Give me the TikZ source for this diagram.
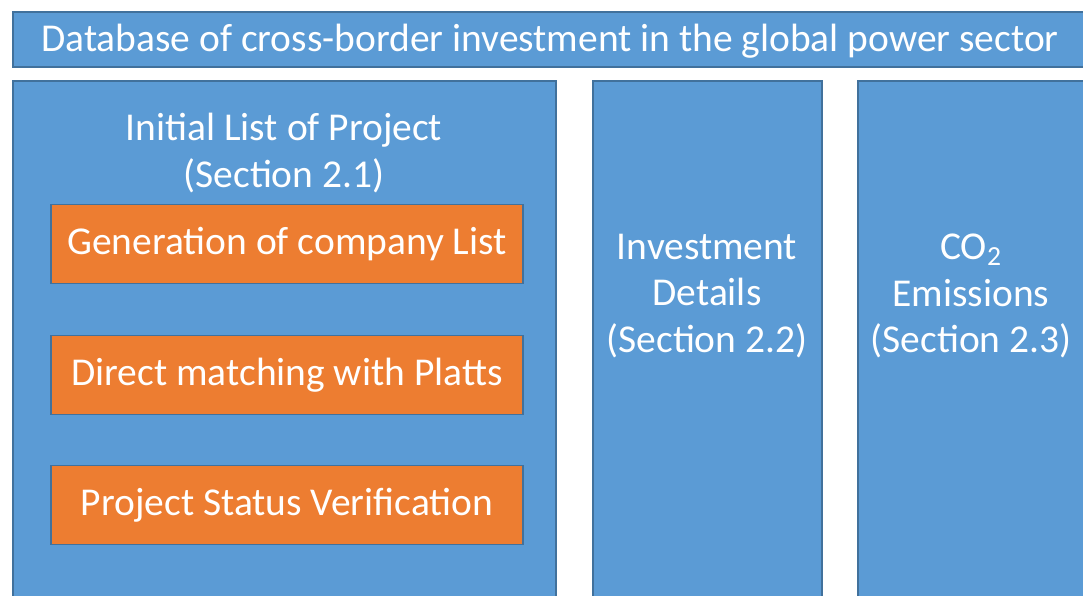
\documentclass[tikz,border=0pt]{standalone}
\usepackage{fontspec}
\setmainfont{Carlito}
\usepackage{tikz}
\usetikzlibrary{positioning}

\definecolor{boxblue}{RGB}{91,155,213}
\definecolor{boxorange}{RGB}{237,125,49}
\definecolor{edgeblue}{RGB}{65,113,156}

\tikzset{
  bluebox/.style={draw=edgeblue, fill=boxblue, line width=0.9pt},
  orangebox/.style={draw=edgeblue, fill=boxorange, line width=0.9pt, text=white,
    minimum width=354pt, minimum height=59.25pt, inner sep=0pt,
    font=\fontsize{29.6}{35}\selectfont},
  boxtext/.style={text=white, align=center, inner sep=0pt,
    font=\fontsize{29.6}{35}\selectfont}
}

\begin{document}
\begin{tikzpicture}[x=0.75pt,y=0.75pt,yscale=-1,xscale=1]
\useasboundingbox (0,0) rectangle (1083,596);
\clip (0,0) rectangle (1083,596);

%Shape: Rectangle (title bar)
\draw[bluebox] (13,12) rectangle (1090,67);
%Shape: Rectangle (initial list)
\draw[bluebox] (13,81) rectangle (556,620);
%Shape: Rectangle (investment details)
\draw[bluebox] (593,81) rectangle (822,620);
%Shape: Rectangle (emissions)
\draw[bluebox] (858,81) rectangle (1090,620);

% Text Node
\node[boxtext] (title) at (550,41) {Database of cross-border investment in the global power sector};
% Text Node
\node[boxtext] (initlist) at (284,153) {Initial List of Project\\(Section 2.1)};
% Text Node
\node[boxtext] (invest) at (707,296) {Investment\\Details\\(Section 2.2)};
% Text Node
\node[boxtext] (emission) at (971,296) {CO\textsubscript{2}\\Emissions\\(Section 2.3)};

% Orange steps
\node[orangebox] (companies) at (287,244) {Generation of company List};
\node[orangebox] (matching) at (287,375) {Direct matching with Platts};
\node[orangebox] (status) at (287,505) {Project Status Verification};

\end{tikzpicture}
\end{document}
